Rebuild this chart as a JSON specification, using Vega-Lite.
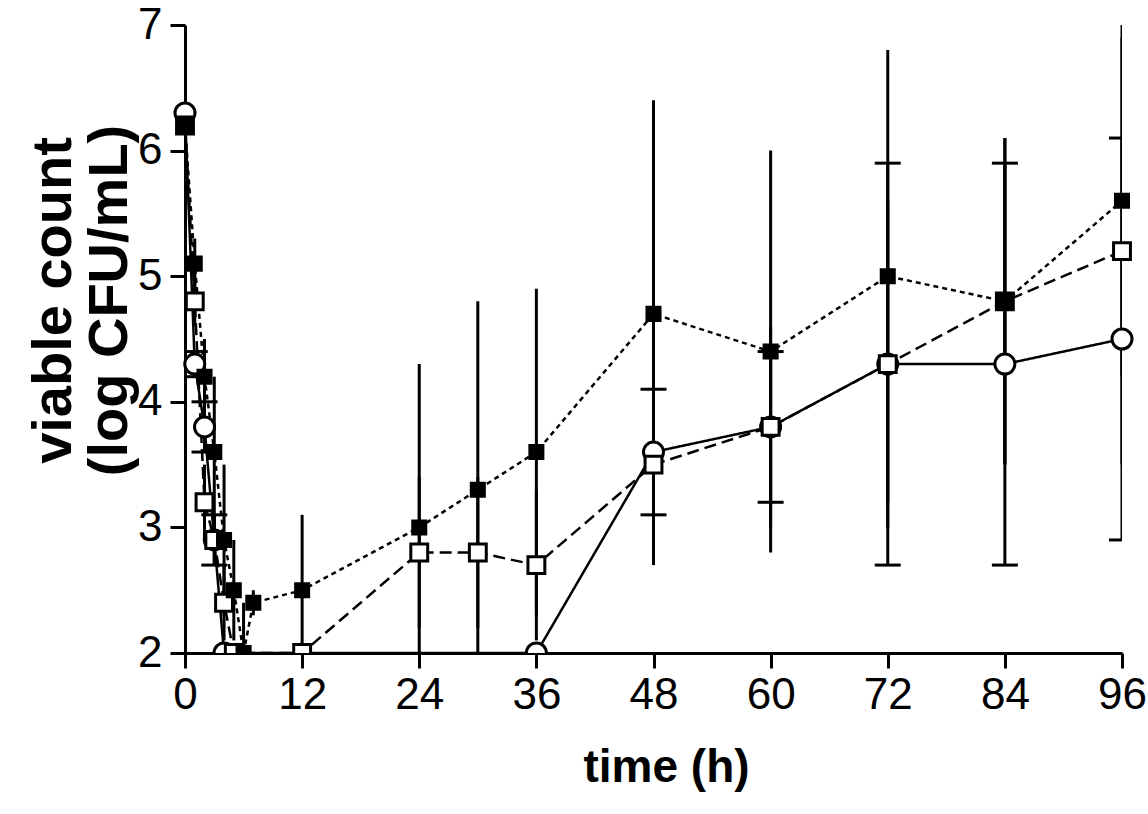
{
  "$schema": "https://vega.github.io/schema/vega-lite/v6.json",
  "width": 937,
  "height": 628,
  "autosize": "none",
  "padding": {"left": 185, "top": 25, "right": 26, "bottom": 161},
  "background": "white",
  "config": {
    "view": {"stroke": null},
    "font": "Liberation Sans",
    "axis": {
      "grid": false,
      "domainColor": "black",
      "domainWidth": 3,
      "tickColor": "black",
      "tickWidth": 3,
      "tickSize": 15,
      "labelColor": "black",
      "labelFont": "Liberation Sans",
      "labelFontSize": 44,
      "titleColor": "black",
      "titleFont": "Liberation Sans",
      "titleFontWeight": "bold"
    },
    "axisX": {
      "labelPadding": 5,
      "labelFlush": false,
      "titleFontSize": 46,
      "titleBaseline": "alphabetic",
      "titleAnchor": "start",
      "titleAlign": "center",
      "titleX": 481,
      "titleY": 128
    },
    "axisY": {
      "labelPadding": 8,
      "labelFlush": false,
      "format": "d",
      "titleFontSize": 56,
      "titleLineHeight": 56,
      "titleAngle": 270,
      "titleAlign": "center",
      "titleBaseline": "middle",
      "titleAnchor": "start",
      "titleX": -132,
      "titleY": 275
    }
  },
  "data": {
    "values": [
      {"series": "C", "t": 0, "v": 6.3, "lo": null, "hi": null},
      {"series": "C", "t": 1, "v": 4.3, "lo": 4.2, "hi": 4.4},
      {"series": "C", "t": 2, "v": 3.8, "lo": 3.6, "hi": 4.0},
      {"series": "C", "t": 3, "v": 2.9, "lo": 2.7, "hi": 3.1},
      {"series": "C", "t": 4, "v": 2.0, "lo": null, "hi": null},
      {"series": "C", "t": 36, "v": 2.0, "lo": null, "hi": null},
      {"series": "C", "t": 48, "v": 3.6, "lo": 3.1, "hi": 4.1},
      {"series": "C", "t": 60, "v": 3.8, "lo": 3.2, "hi": 4.4},
      {"series": "C", "t": 72, "v": 4.3, "lo": 2.7, "hi": 5.9},
      {"series": "C", "t": 84, "v": 4.3, "lo": 2.7, "hi": 5.9},
      {"series": "C", "t": 96, "v": 4.5, "lo": 2.9, "hi": 6.1},
      {"series": "O", "t": 0, "v": 6.2, "lo": null, "hi": null},
      {"series": "O", "t": 1, "v": 4.8, "lo": 4.6, "hi": 5.0},
      {"series": "O", "t": 2, "v": 3.2, "lo": 2.9, "hi": 3.5},
      {"series": "O", "t": 3, "v": 2.9, "lo": 2.7, "hi": 3.1},
      {"series": "O", "t": 4, "v": 2.4, "lo": 2.1, "hi": 2.7},
      {"series": "O", "t": 5, "v": 2.0, "lo": null, "hi": null},
      {"series": "O", "t": 12, "v": 2.0, "lo": null, "hi": null},
      {"series": "O", "t": 24, "v": 2.8, "lo": 2.2, "hi": 3.4},
      {"series": "O", "t": 30, "v": 2.8, "lo": 2.2, "hi": 3.4},
      {"series": "O", "t": 36, "v": 2.7, "lo": 2.1, "hi": 3.3},
      {"series": "O", "t": 48, "v": 3.5, "lo": 2.7, "hi": 4.3},
      {"series": "O", "t": 60, "v": 3.8, "lo": 3.0, "hi": 4.6},
      {"series": "O", "t": 72, "v": 4.3, "lo": 3.0, "hi": 5.6},
      {"series": "O", "t": 84, "v": 4.8, "lo": 3.5, "hi": 6.1},
      {"series": "O", "t": 96, "v": 5.2, "lo": 3.5, "hi": 6.9},
      {"series": "F", "t": 0, "v": 6.2, "lo": null, "hi": null},
      {"series": "F", "t": 1, "v": 5.1, "lo": 4.9, "hi": 5.3},
      {"series": "F", "t": 2, "v": 4.2, "lo": 3.9, "hi": 4.5},
      {"series": "F", "t": 3, "v": 3.6, "lo": 3.0, "hi": 4.2},
      {"series": "F", "t": 4, "v": 2.9, "lo": 2.3, "hi": 3.5},
      {"series": "F", "t": 5, "v": 2.5, "lo": 2.1, "hi": 2.9},
      {"series": "F", "t": 6, "v": 2.0, "lo": 1.6, "hi": 2.4},
      {"series": "F", "t": 7, "v": 2.4, "lo": 2.3, "hi": 2.5},
      {"series": "F", "t": 12, "v": 2.5, "lo": 1.9, "hi": 3.1},
      {"series": "F", "t": 24, "v": 3.0, "lo": 1.7, "hi": 4.3},
      {"series": "F", "t": 30, "v": 3.3, "lo": 1.8, "hi": 4.8},
      {"series": "F", "t": 36, "v": 3.6, "lo": 2.3, "hi": 4.9},
      {"series": "F", "t": 48, "v": 4.7, "lo": 3.0, "hi": 6.4},
      {"series": "F", "t": 60, "v": 4.4, "lo": 2.8, "hi": 6.0},
      {"series": "F", "t": 72, "v": 5.0, "lo": 3.2, "hi": 6.8},
      {"series": "F", "t": 84, "v": 4.8, "lo": 3.5, "hi": 6.1},
      {"series": "F", "t": 96, "v": 5.6, "lo": 4.2, "hi": 7.0}
    ]
  },
  "encoding": {
    "x": {
      "field": "t",
      "type": "quantitative",
      "title": "time (h)",
      "scale": {"domain": [0, 96], "nice": false, "zero": false},
      "axis": {"values": [0, 12, 24, 36, 48, 60, 72, 84, 96]}
    }
  },
  "layer": [
    {
      "mark": {"type": "line", "color": "black", "strokeWidth": 2.5},
      "encoding": {
        "y": {
          "field": "v",
          "type": "quantitative",
          "title": ["viable count", "(log CFU/mL)"],
          "scale": {"domain": [2, 7], "nice": false, "zero": false},
          "axis": {"values": [2, 3, 4, 5, 6, 7]}
        },
        "detail": {"field": "series"},
        "strokeDash": {
          "field": "series",
          "type": "nominal",
          "scale": {"domain": ["C", "O", "F"], "range": [[1, 0], [12, 6], [5, 4]]},
          "legend": null
        },
        "order": {"field": "t", "type": "quantitative"}
      }
    },
    {
      "transform": [{"filter": "datum.lo != null"}],
      "mark": {"type": "rule", "color": "black", "strokeWidth": 3, "clip": true},
      "encoding": {
        "y": {"field": "lo", "type": "quantitative", "title": ["viable count", "(log CFU/mL)"]},
        "y2": {"field": "hi"}
      }
    },
    {
      "transform": [{"filter": "datum.series == 'C' && datum.lo != null"}],
      "mark": {"type": "tick", "orient": "horizontal", "color": "black", "opacity": 1, "size": 26, "thickness": 3, "clip": true},
      "encoding": {
        "y": {"field": "lo", "type": "quantitative", "title": ["viable count", "(log CFU/mL)"]}
      }
    },
    {
      "transform": [{"filter": "datum.series == 'C' && datum.hi != null"}],
      "mark": {"type": "tick", "orient": "horizontal", "color": "black", "opacity": 1, "size": 26, "thickness": 3, "clip": true},
      "encoding": {
        "y": {"field": "hi", "type": "quantitative", "title": ["viable count", "(log CFU/mL)"]}
      }
    },
    {
      "transform": [{"filter": "datum.v > 2"}],
      "mark": {"type": "point", "filled": true, "opacity": 1, "stroke": "black", "strokeWidth": 3},
      "encoding": {
        "y": {"field": "v", "type": "quantitative", "title": ["viable count", "(log CFU/mL)"]},
        "shape": {"field": "series", "type": "nominal", "scale": {"domain": ["C", "O", "F"], "range": ["circle", "square", "square"]}, "legend": null},
        "fill": {"field": "series", "type": "nominal", "scale": {"domain": ["C", "O", "F"], "range": ["white", "white", "black"]}, "legend": null},
        "size": {"field": "series", "type": "nominal", "scale": {"domain": ["C", "O", "F"], "range": [400, 170, 170]}, "legend": null}
      }
    },
    {
      "transform": [{"filter": "datum.v <= 2"}],
      "mark": {"type": "point", "filled": true, "opacity": 1, "stroke": "black", "strokeWidth": 3, "clip": true},
      "encoding": {
        "y": {"field": "v", "type": "quantitative", "title": ["viable count", "(log CFU/mL)"]},
        "shape": {"field": "series", "type": "nominal", "scale": {"domain": ["C", "O", "F"], "range": ["circle", "square", "square"]}, "legend": null},
        "fill": {"field": "series", "type": "nominal", "scale": {"domain": ["C", "O", "F"], "range": ["white", "white", "black"]}, "legend": null},
        "size": {"field": "series", "type": "nominal", "scale": {"domain": ["C", "O", "F"], "range": [400, 170, 170]}, "legend": null}
      }
    }
  ]
}
